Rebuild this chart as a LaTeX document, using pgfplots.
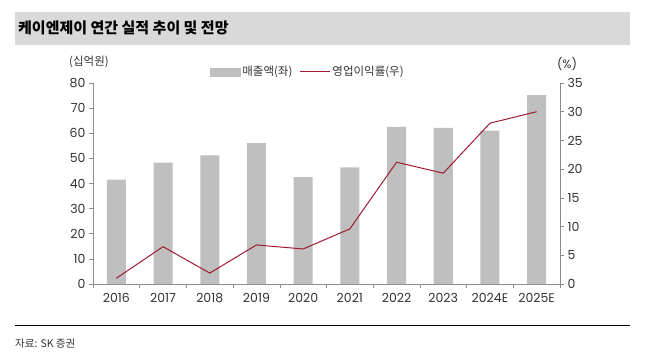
\documentclass[border=0pt]{standalone}
\usepackage{pgfplots}
\pgfplotsset{compat=1.18}
\usepackage{fontspec}
\setmainfont{Noto Sans CJK KR}
\newfontfamily\numfont{Poppins}
\definecolor{bargray}{HTML}{BFBFBF}
\definecolor{linered}{HTML}{9E1B32}
\definecolor{axgray}{HTML}{8C8C8C}
\definecolor{bannergray}{HTML}{D9D9D9}
\definecolor{txt}{HTML}{333333}
\begin{document}
\begin{tikzpicture}
\path (0pt,0pt) rectangle (646pt,357pt);
\fill[bannergray] (15pt,312pt) rectangle (630pt,345pt);
\node[anchor=west,font=\bfseries\fontsize{15}{18}\selectfont,inner sep=0pt] at (18pt,329pt) {케이엔제이 연간 실적 추이 및 전망};
\draw[black, line width=0.8pt] (15pt,32pt) -- (630pt,32pt);
\node[anchor=west,font=\fontsize{10.5}{13}\selectfont,inner sep=0pt,text=txt] at (15pt,13pt) {자료: SK 증권};
\node[font=\fontsize{11.5}{13}\selectfont,text=txt] at (89pt,295pt) {(십억원)};
\node[font=\numfont\fontsize{12}{14}\selectfont,text=txt] at (567pt,293pt) {(\%)};
\begin{axis}[
  at={(93pt,73pt)}, anchor=south west,
  width=467pt, height=201pt, scale only axis,
  xmin=-0.5, xmax=9.5, ymin=0, ymax=80,
  axis y line*=left, axis x line*=bottom,
  axis line style={axgray, line width=0.8pt},
  ytick={0,10,...,80},
  xtick={0,...,9},
  xticklabels={2016,2017,2018,2019,2020,2021,2022,2023,2024E,2025E},
  major x tick style={draw=none},
  minor xtick={-0.5,0.5,...,9.5},
  minor x tick style={axgray, line width=0.6pt},
  major y tick style={axgray, line width=0.6pt},
  tick align=outside, major tick length=4pt, minor tick length=4pt,
  ticklabel style={font=\numfont\fontsize{12.5}{14}\selectfont, text=txt},
  /pgf/number format/assume math mode=true,
  xticklabel style={yshift=-2pt},
  ybar, bar width=19pt,
  clip=false,
]
\addplot[fill=bargray, draw=none] coordinates {
(0,41.5) (1,48.3) (2,51.2) (3,56.1) (4,42.5) (5,46.4) (6,62.5) (7,62.1) (8,61.0) (9,75.2)};
\end{axis}
\begin{axis}[
  at={(93pt,73pt)}, anchor=south west,
  width=467pt, height=201pt, scale only axis,
  xmin=-0.5, xmax=9.5, ymin=0, ymax=35,
  axis y line*=right, axis x line=none,
  axis line style={axgray, line width=0.8pt},
  ytick={0,5,...,35},
  major y tick style={axgray, line width=0.6pt},
  tick align=outside, major tick length=4pt,
  ticklabel style={font=\numfont\fontsize{12.5}{14}\selectfont, text=txt},
  /pgf/number format/assume math mode=true,
  legend columns=2,
  legend style={draw=none, fill=none, at={(0.46,1.055)}, anchor=center,
    font=\fontsize{11.5}{13}\selectfont, text=txt,
    /tikz/every even column/.append style={column sep=5pt}},
  clip=false,
]
\addlegendimage{legend image code/.code={\fill[bargray] (0pt,-4pt) rectangle (30pt,4pt);}}
\addlegendentry{매출액(좌)}
\addplot[linered, line width=1pt, mark=none,
  legend image code/.code={\draw[linered,line width=1pt] (0pt,0pt) -- (30pt,0pt);}] coordinates {
(0,1.0) (1,6.5) (2,1.9) (3,6.8) (4,6.1) (5,9.6) (6,21.2) (7,19.3) (8,28.0) (9,30.0)};
\addlegendentry{영업이익률(우)}
\end{axis}
\end{tikzpicture}
\end{document}
